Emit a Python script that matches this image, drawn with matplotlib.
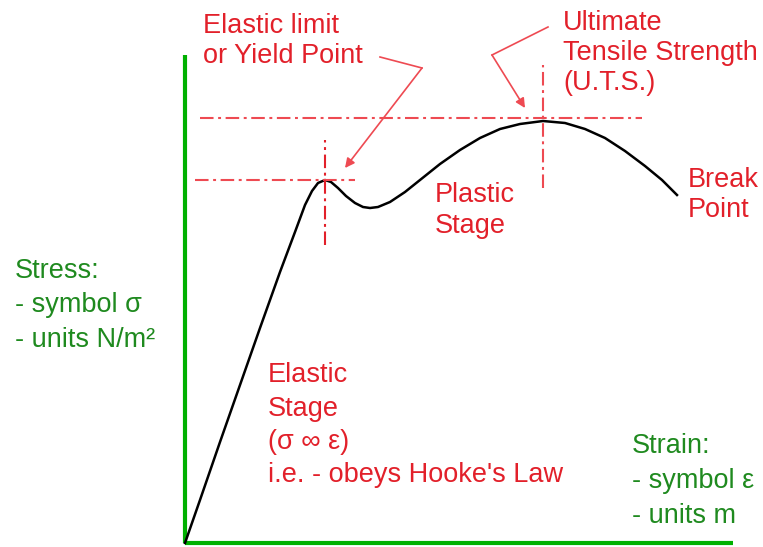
import numpy as np
import matplotlib
matplotlib.use('Agg')
import matplotlib.pyplot as plt

plt.rcParams['font.family'] = ['Liberation Sans', 'DejaVu Sans']

# Curva tensao-deformacao (unidades arbitrarias, origem no canto dos eixos)
strain = np.array([0, 15, 35, 55, 75, 95, 110, 120, 127, 133, 140, 146, 153,
                   161, 170, 178, 185, 193, 205, 220, 235, 255, 275, 295,
                   315, 335, 358, 380, 400, 420, 440, 460, 477, 492])
stress = np.array([0, 43, 101, 158, 215, 271, 311, 338, 352, 360, 363, 361,
                   355, 347, 340, 336, 335, 336, 341, 351, 363, 379, 393,
                   405, 414, 419, 422, 420, 414, 405, 392, 377, 363, 348])

# Pontos notaveis
yield_pt = (140, 363)
uts_pt = (358, 425)

RED = '#e2202a'
LRED = '#ee4a52'
GREEN_AX = '#00b000'
GREEN_TX = '#1f8a1f'
FS = 19.5

fig = plt.figure(figsize=(7.63, 5.47), dpi=100)
ax = fig.add_axes([0, 0, 1, 1])
ax.set_xlim(-185, 578)
ax.set_ylim(-4, 543)
ax.axis('off')

# Eixos verdes
ax.plot([0, 0], [0, 488], color=GREEN_AX, lw=3, solid_capstyle='butt')
ax.plot([0, 548], [0, 0], color=GREEN_AX, lw=3, solid_capstyle='butt')

# Curva
ax.plot(strain, stress, color='black', lw=1.8, solid_joinstyle='round')

dashdot = (0, (6.5, 2.2, 1.4, 2.2))
# Linhas de referencia (limite elastico)
ax.plot([10, 170], [yield_pt[1], yield_pt[1]], color=LRED, lw=1.5, ls=dashdot)
ax.plot([yield_pt[0], yield_pt[0]], [298, 403], color=RED, lw=1.5, ls=dashdot)
# Linhas de referencia (UTS)
ax.plot([15, 457], [uts_pt[1], uts_pt[1]], color=LRED, lw=1.5, ls=dashdot)
ax.plot([uts_pt[0], uts_pt[0]], [355, 478], color=LRED, lw=1.5, ls=dashdot)

# Setas
ax.plot([195, 237], [486, 475], color=LRED, lw=1.2)
ax.annotate('', xy=(160, 375), xytext=(237, 475),
            arrowprops=dict(arrowstyle='-|>', color=LRED, lw=1.2,
                            mutation_scale=14, shrinkA=0, shrinkB=0))
ax.plot([363, 307], [516, 488], color=LRED, lw=1.2)
ax.annotate('', xy=(340, 435), xytext=(307, 488),
            arrowprops=dict(arrowstyle='-|>', color=LRED, lw=1.2,
                            mutation_scale=14, shrinkA=0, shrinkB=0))


def label(x, y0, lines, color, dy):
    # y0 = linha de base da primeira linha (px a partir do topo)
    for i, s in enumerate(lines):
        ax.text(x - 185, 543 - (y0 + i * dy), s, color=color, fontsize=FS,
                ha='left', va='baseline')


label(203, 33, ['Elastic limit', 'or Yield Point'], RED, 30)
label(563, 30, ['Ultimate', 'Tensile Strength', '(U.T.S.)'], RED, 30)
label(435, 202, ['Plastic', 'Stage'], RED, 31)
label(688, 187, ['Break', 'Point'], RED, 30)
label(268, 382, ['Elastic', 'Stage', '(σ ∞ ε)', "i.e. - obeys Hooke's Law"], RED, 33.5)
label(15, 278, ['Stress:', '- symbol σ', '- units N/m²'], GREEN_TX, 34.5)
label(632, 453, ['Strain:', '- symbol ε', '- units m'], GREEN_TX, 35)

fig.savefig('out.png', dpi=100)
